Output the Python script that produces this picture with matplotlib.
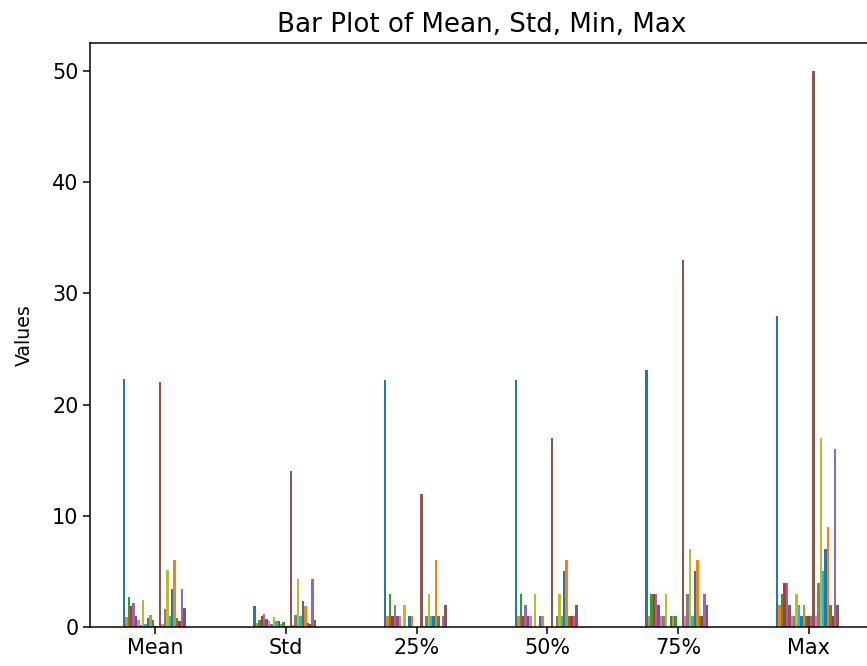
import matplotlib
matplotlib.use("Agg")
import matplotlib.pyplot as plt
import pandas as pd

# Summary statistics, one list per row (27 columns each)
stats = ["Mean", "Std", "25%", "50%", "75%", "Max"]
columns = [f"col{i + 1}" for i in range(27)]

mean_vals = [22.3, 0.9, 2.7, 1.9, 2.2, 1.0, 0.6, 0.2, 2.4, 0.3, 0.8, 1.1, 0.6, 0.1,
             0.1, 22.0, 0.3, 1.6, 5.1, 1.0, 3.4, 6.0, 0.8, 0.5, 3.4, 1.7, 0.0]
std_vals = [1.9, 0.35, 0.6, 1.0, 1.2, 0.7, 0.5, 0.3, 0.9, 0.5, 0.5, 0.3, 0.45, 0.1,
            0.1, 14.0, 0.2, 1.1, 4.3, 1.0, 2.3, 1.9, 0.4, 0.3, 4.3, 0.6, 0.0]
q25_vals = [22.2, 1, 3, 1, 2, 1, 1, 0, 2, 0, 1, 1, 0, 0,
            0, 12, 0, 1, 3, 1, 1, 6, 1, 0, 1, 2, 0]
q50_vals = [22.2, 1, 3, 1, 2, 1, 1, 0, 3, 0, 1, 1, 0, 0,
            0, 17, 0, 1, 3, 1, 5, 6, 1, 1, 1, 2, 0]
q75_vals = [23.1, 1, 3, 3, 3, 2, 1, 1, 3, 0, 1, 1, 1, 0,
            0, 33, 1, 3, 7, 1, 5, 6, 1, 1, 3, 2, 0]
max_vals = [28, 2, 3, 4, 4, 2, 1, 1, 3, 2, 1, 2, 1, 1,
            1, 50, 1, 4, 17, 5, 7, 9, 2, 1, 16, 2, 0]

df = pd.DataFrame([mean_vals, std_vals, q25_vals, q50_vals, q75_vals, max_vals],
                  index=stats, columns=columns)

scale = 1.36
plt.rcParams["font.size"] = 11 * scale
plt.rcParams["axes.linewidth"] = 0.8 * scale
plt.rcParams["xtick.major.width"] = 0.8 * scale
plt.rcParams["ytick.major.width"] = 0.8 * scale
plt.rcParams["xtick.major.size"] = 3.5 * scale
plt.rcParams["ytick.major.size"] = 3.5 * scale

fig = plt.figure(figsize=(8.67, 6.66), dpi=100)
ax = fig.add_axes([90 / 867, 39 / 666, 784 / 867, 584 / 666])

df.plot.bar(ax=ax, legend=False, rot=0, width=0.5)
ax.set_ylim(0, 52.5)
ax.set_title("Bar Plot of Mean, Std, Min, Max", fontsize=13.8 * scale, pad=8)
ax.set_ylabel("Values", fontsize=10 * scale)
ax.yaxis.set_label_coords(-0.071, 0.5)

fig.savefig("out.png", dpi=100)
